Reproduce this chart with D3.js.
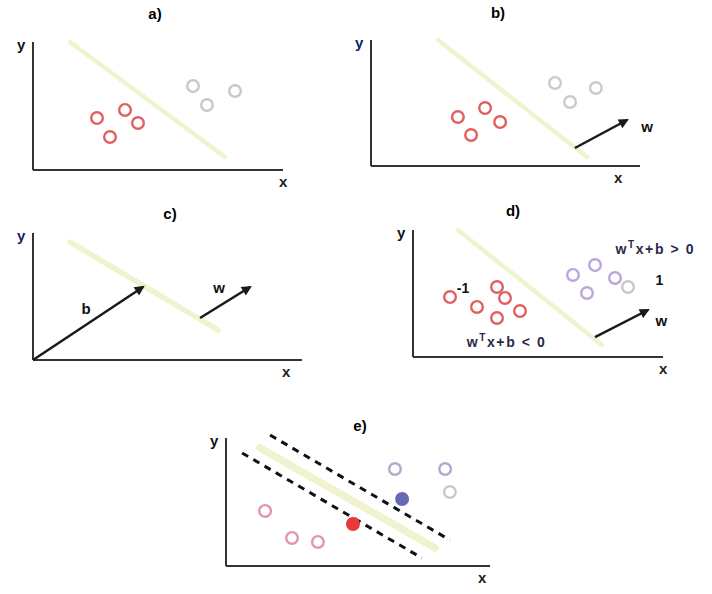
<!DOCTYPE html>
<html>
<head>
<meta charset="utf-8">
<script src="https://cdn.jsdelivr.net/npm/d3@7"></script>
<style>
  body { margin: 0; background: #fff; }
  text { font-family: "Liberation Sans", Arial, sans-serif; font-weight: bold; }
</style>
</head>
<body>
<svg id="chart" width="712" height="594"></svg>
<script>
// all values are in panel units: 0..100 along each axis
const aRed = [[25.6, 40.6], [36.8, 46.9], [42, 36.7], [30.8, 25.8]];
const aGray = [[64, 65.6], [80.8, 61.7], [69.6, 50.8]];
const aLine = [[14.8, 100], [76.8, 10.2]];

const bRed = [[32.3, 38.9], [42.4, 46], [48, 34.9], [37.2, 24.6]];
const bGray = [[68.4, 65.9], [83.6, 61.9], [74, 50.8]];
const bLine = [[24.9, 100], [80.3, 7.1]];
const bW = [[75.8, 14.3], [95.2, 36.5]];

const cLine = [[13.8, 92.9], [68.8, 23.6]];
const cB = [[0, 0], [40.9, 57.5]];
const cW = [[62.1, 33.1], [80.7, 57.5]];

const dRed = [[14.8, 47.2], [33.6, 55.1], [36.8, 46.5], [25.6, 39.4], [33.6, 30.7], [42.8, 36.2]];
const dPurple = [[64, 64.6], [72.8, 72.4], [80.8, 62.2], [69.6, 50.4]];
const dGray = [[86, 55.1]];
const dLine = [[18, 100], [75.6, 9.4]];
const dW = [[72.8, 15.7], [94, 37]];

const eRed = [[14.8, 43], [25, 21.9], [34.8, 18.8]];
const eRedSV = [[48.1, 32.8]];
const eBlue = [[64, 75.8], [83, 75.8]];
const eGray = [[84.8, 57.8]];
const eBlueSV = [[66.7, 52.3]];
const eLine = [[12.9, 92.2], [79.2, 14.1]];
const eUpper = [[16.7, 102.3], [84.8, 20.3]];
const eLower = [[6.1, 88.3], [74.2, 6.25]];

const svg = d3.select("#chart");

svg.append("defs").append("marker")
  .attr("id", "head")
  .attr("viewBox", "0 0 10 10")
  .attr("refX", 8).attr("refY", 5)
  .attr("markerWidth", 12).attr("markerHeight", 10)
  .attr("markerUnits", "userSpaceOnUse")
  .attr("orient", "auto")
  .append("path")
  .attr("d", "M0,0L10,5L0,10z")
  .attr("fill", "#1a1a1a");

function panel(p) {
  const x = d3.scaleLinear().domain([0, 100]).range([p.left, p.left + p.width]);
  const y = d3.scaleLinear().domain([0, 100]).range([p.top + p.height, p.top]);
  const g = svg.append("g");

  // axes
  g.append("line")
    .attr("x1", x(0)).attr("y1", y(100)).attr("x2", x(0)).attr("y2", y(0))
    .attr("stroke", "#333").attr("stroke-width", 2);
  g.append("line")
    .attr("x1", x(0)).attr("y1", y(0)).attr("x2", x(100)).attr("y2", y(0))
    .attr("stroke", "#333").attr("stroke-width", 2);

  g.append("text").attr("x", p.title[0]).attr("y", p.title[1])
    .attr("text-anchor", "middle").attr("font-size", 15).text(p.id + ")");
  g.append("text").attr("x", x(0) - 16).attr("y", y(100) + 8)
    .attr("font-size", 15).attr("fill", p.yColor || "#111").text("y");
  g.append("text").attr("x", x(100) - 4 + (p.xShift || 0)).attr("y", y(0) + 17)
    .attr("font-size", 15).attr("fill", "#222").text("x");

  return { g, x, y };
}

function hyper(c, pts, w) {
  c.g.append("line")
    .attr("x1", c.x(pts[0][0])).attr("y1", c.y(pts[0][1]))
    .attr("x2", c.x(pts[1][0])).attr("y2", c.y(pts[1][1]))
    .attr("stroke", "#f1f3cf").attr("stroke-width", w || 4.5)
    .attr("stroke-linecap", "round");
}

function dashed(c, pts) {
  c.g.append("line")
    .attr("x1", c.x(pts[0][0])).attr("y1", c.y(pts[0][1]))
    .attr("x2", c.x(pts[1][0])).attr("y2", c.y(pts[1][1]))
    .attr("stroke", "#111").attr("stroke-width", 3)
    .attr("stroke-dasharray", "7,6");
}

function arrow(c, pts) {
  c.g.append("line")
    .attr("x1", c.x(pts[0][0])).attr("y1", c.y(pts[0][1]))
    .attr("x2", c.x(pts[1][0])).attr("y2", c.y(pts[1][1]))
    .attr("stroke", "#1a1a1a").attr("stroke-width", 2.5)
    .attr("marker-end", "url(#head)");
}

function dots(c, pts, stroke, fill) {
  c.g.selectAll(null).data(pts).join("circle")
    .attr("cx", d => c.x(d[0])).attr("cy", d => c.y(d[1]))
    .attr("r", 5.8)
    .attr("fill", fill || "#fff")
    .attr("stroke", stroke).attr("stroke-width", 2.4);
}

function label(c, pos, txt, size, color) {
  c.g.append("text").attr("x", c.x(pos[0])).attr("y", c.y(pos[1]))
    .attr("font-size", size || 14).attr("fill", color || "#111").text(txt);
}

function ineq(c, pos, sign) {
  const t = c.g.append("text").attr("x", c.x(pos[0])).attr("y", c.y(pos[1]))
    .attr("font-size", 14).attr("letter-spacing", 1.6).attr("fill", "#2a2a4a");
  t.append("tspan").text("w");
  t.append("tspan").attr("dy", -6).attr("font-size", 10).text("T");
  t.append("tspan").attr("dy", 6).text("x+b " + sign + " 0");
}

// a)
const pa = panel({ id: "a", left: 33, top: 42, width: 250, height: 128, title: [155, 19] });
hyper(pa, aLine);
dots(pa, aRed, "#e06060");
dots(pa, aGray, "#c8c8c8");

// b)
const pb = panel({ id: "b", left: 371, top: 40, width: 269, height: 126, title: [498, 18], yColor: "#102060", xShift: -22 });
hyper(pb, bLine);
dots(pb, bRed, "#e06060");
dots(pb, bGray, "#cacaca");
arrow(pb, bW);
label(pb, [100.5, 27], "w", 15);

// c)
const pc = panel({ id: "c", left: 33, top: 233, width: 269, height: 127, title: [170, 219], yColor: "#1a2060", xShift: -16 });
hyper(pc, cLine, 5.5);
arrow(pc, cB);
arrow(pc, cW);
label(pc, [18, 36], "b", 15);
label(pc, [67, 53], "w", 15);

// d)
const pd = panel({ id: "d", left: 413, top: 230, width: 250, height: 127, title: [513, 216] });
hyper(pd, dLine);
dots(pd, dRed, "#e06060");
dots(pd, dPurple, "#bca6da");
dots(pd, dGray, "#c8c8c8");
arrow(pd, dW);
label(pd, [17.5, 50.5], "-1", 14);
label(pd, [97, 57], "1", 14);
label(pd, [97, 24.5], "w", 15);
ineq(pd, [81, 81], ">");
ineq(pd, [21.5, 7.5], "<");

// e)
const pe = panel({ id: "e", left: 226, top: 438, width: 264, height: 128, title: [360, 431], xShift: -8 });
hyper(pe, eLine, 7.5);
dashed(pe, eUpper);
dashed(pe, eLower);
dots(pe, eRed, "#e098a8");
dots(pe, eRedSV, "#e83838", "#e83838");
dots(pe, eBlue, "#acacce");
dots(pe, eGray, "#c8c8d2");
dots(pe, eBlueSV, "#6868b8", "#6868b8");
</script>
</body>
</html>
